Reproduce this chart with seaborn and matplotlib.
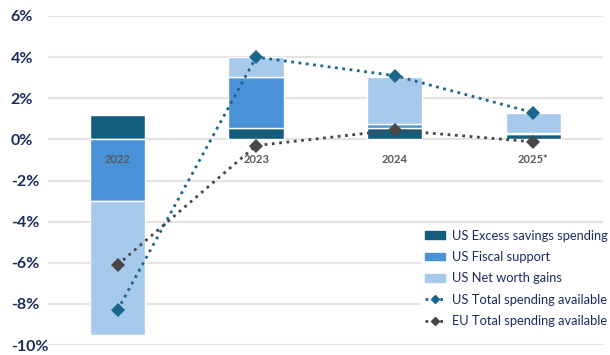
import numpy as np
import seaborn as sns
from matplotlib import pyplot as plt
from matplotlib.lines import Line2D
from matplotlib.patches import Patch

years = ["2022", "2023", "2024", "2025*"]
excess_savings = [1.2, 0.55, 0.55, 0.28]
fiscal_support = [-3.0, 2.5, 0.2, 0.04]
net_worth = [-6.5, 0.95, 2.3, 0.95]
us_total = [-8.3, 4.0, 3.1, 1.3]
eu_total = [-6.1, -0.3, 0.45, -0.12]

c_dark = "#155d7c"
c_mid = "#4a92d8"
c_light = "#a7c9ec"
c_us = "#19668a"
c_eu = "#474747"
navy = "#1c2b5e"

sns.set_style("white")
plt.rcParams["font.family"] = ["Lato", "DejaVu Sans"]

fig = plt.figure(figsize=(6.1, 3.55), dpi=100)
ax = fig.add_axes([0.079, 0.028, 0.909, 0.927])

x = np.arange(len(years))
pos_base = np.zeros(len(years))
neg_base = np.zeros(len(years))
for vals, col in [(excess_savings, c_dark), (fiscal_support, c_mid), (net_worth, c_light)]:
    vals = np.array(vals)
    bottoms = np.where(vals >= 0, pos_base, neg_base)
    ax.bar(x, vals, bottom=bottoms, width=0.4, color=col, zorder=2)
    pos_base = pos_base + np.clip(vals, 0, None)
    neg_base = neg_base + np.clip(vals, None, 0)

sns.lineplot(x=x, y=us_total, ax=ax, color=c_us, linestyle=":", linewidth=2,
             marker="D", markersize=7, markeredgewidth=0, zorder=3)
sns.lineplot(x=x, y=eu_total, ax=ax, color=c_eu, linestyle=":", linewidth=2,
             marker="D", markersize=7, markeredgewidth=0, zorder=3)

for i, yr in enumerate(years):
    ax.text(i, -1.0, yr, ha="center", va="center", fontsize=8,
            color="#5a5a5a", fontweight="bold", zorder=4)

ax.set_xlim(-0.5, 3.5)
ax.set_ylim(-10, 6)
ax.set_yticks(range(-10, 7, 2))
ax.set_yticklabels([f"{v}%" for v in range(-10, 7, 2)], fontsize=11.5,
                   fontweight="bold", color=navy)
for lab in ax.get_yticklabels():
    lab.set_horizontalalignment("left")
ax.set_xticks([])
ax.tick_params(axis="y", length=0, pad=27)
ax.grid(axis="y", color="#e3e3e3", linewidth=1.5, zorder=0)
ax.set_axisbelow(True)
sns.despine(ax=ax, left=True, bottom=True)

handles = [
    Patch(color=c_dark, label="US Excess savings spending"),
    Patch(color=c_mid, label="US Fiscal support"),
    Patch(color=c_light, label="US Net worth gains"),
    Line2D([], [], color=c_us, linestyle=":", linewidth=2, marker="D",
           markersize=4, label="US Total spending available"),
    Line2D([], [], color=c_eu, linestyle=":", linewidth=2, marker="D",
           markersize=4, label="EU Total spending available"),
]
leg = ax.legend(handles=handles, loc="upper left", bbox_to_anchor=(0.672, 0.362),
                frameon=True, fontsize=9.3, labelcolor=navy, handlelength=1.6,
                handleheight=0.55, handletextpad=0.5, labelspacing=0.72,
                borderpad=0.3, borderaxespad=0)
leg.get_frame().set_edgecolor("white")
leg.get_frame().set_facecolor("white")
leg.get_frame().set_alpha(1)

fig.savefig("out.png", dpi=100)
